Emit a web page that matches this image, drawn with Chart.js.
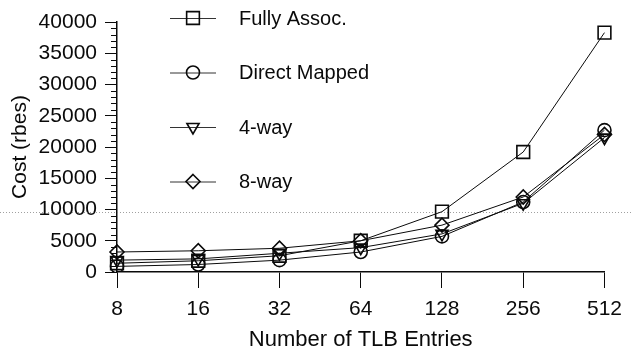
<!DOCTYPE html>
<html>
<head>
<meta charset="utf-8">
<script src="https://cdn.jsdelivr.net/npm/chart.js@4.4.1/dist/chart.umd.min.js"></script>
<style>
  html, body { margin: 0; padding: 0; background: #fff; }
  #wrap { width: 631px; height: 354px; position: relative; }
</style>
</head>
<body>
<div id="wrap"><canvas id="c" width="631" height="354"></canvas></div>
<script>
// TLB size on the x axis, cost in rbes on the y axis
const tlbEntries = ['8', '16', '32', '64', '128', '256', '512'];
const fullyAssoc   = [1400, 1800, 2600, 5000, 9650, 19200, 38300];
const directMapped = [900, 1200, 1900, 3200, 5700, 11200, 22700];
const fourWay      = [1900, 2100, 3000, 3900, 6100, 11000, 21500];
const eightWay     = [3200, 3400, 3800, 5000, 7500, 12000, 22000];
const seriesNames  = ['Fully Assoc.', 'Direct Mapped', '4-way', '8-way'];
const yTickMax = 40000;
const yTickStep = 5000;
const yMinorStep = 1000;
const scanLineValue = 9650;

const INK = '#0a0a0a';
const FONT = 'Liberation Sans, Arial, Helvetica, sans-serif';

function makeSeries(label, data, style, radius, rotation) {
  return {
    label, data,
    borderColor: INK,
    borderWidth: 1,
    pointStyle: style,
    pointRadius: radius,
    pointHoverRadius: radius,
    pointRotation: rotation || 0,
    pointBorderColor: INK,
    pointBorderWidth: 1.6,
    pointBackgroundColor: 'rgba(0,0,0,0)',
    tension: 0,
    fill: false
  };
}

// draws a hollow marker matching the dataset point styles
function drawMarker(ctx, style, x, y, r) {
  ctx.beginPath();
  if (style === 'rect') {
    const s = Math.SQRT1_2 * r;
    ctx.rect(x - s, y - s, 2 * s, 2 * s);
  } else if (style === 'circle') {
    ctx.arc(x, y, r, 0, Math.PI * 2);
  } else if (style === 'triangleDown') {
    for (let k = 0; k < 3; k++) {
      const ang = Math.PI + k * 2 * Math.PI / 3;
      const px = x + Math.sin(ang) * r, py = y - Math.cos(ang) * r;
      if (k === 0) ctx.moveTo(px, py); else ctx.lineTo(px, py);
    }
    ctx.closePath();
  } else if (style === 'rectRot') {
    ctx.moveTo(x, y - r); ctx.lineTo(x + r, y); ctx.lineTo(x, y + r); ctx.lineTo(x - r, y);
    ctx.closePath();
  }
  ctx.stroke();
}

const extras = {
  id: 'extras',
  beforeDatasetsDraw(chart) {
    const ctx = chart.ctx;
    const ys = chart.scales.y;
    // minor ticks on the cost axis
    ctx.save();
    ctx.strokeStyle = INK;
    ctx.lineWidth = 1;
    const x0 = chart.chartArea.left;
    for (let v = 0; v <= yTickMax; v += yMinorStep) {
      if (v % yTickStep === 0) continue;
      const py = Math.round(ys.getPixelForValue(v)) + 0.5;
      ctx.beginPath();
      ctx.moveTo(x0 - 6, py);
      ctx.lineTo(x0, py);
      ctx.stroke();
    }
    // faint dotted line running across the page
    const sy = Math.round(ys.getPixelForValue(scanLineValue)) + 0.5;
    ctx.strokeStyle = 'rgba(120,120,120,0.7)';
    ctx.setLineDash([1, 2]);
    ctx.beginPath();
    ctx.moveTo(0, sy);
    ctx.lineTo(chart.width, sy);
    ctx.stroke();
    ctx.restore();
  },
  afterDraw(chart) {
    const ctx = chart.ctx;
    ctx.save();
    const styles = ['rect', 'circle', 'triangleDown', 'rectRot'];
    const radii = [9, 6.5, 7, 7];
    chart.data.datasets.forEach((ds, i) => {
      const y = 18 + i * 54.5;
      ctx.strokeStyle = '#333';
      ctx.lineWidth = 1;
      ctx.beginPath();
      ctx.moveTo(170, y + 0.5);
      ctx.lineTo(216, y + 0.5);
      ctx.stroke();
      ctx.strokeStyle = INK;
      ctx.lineWidth = 1.6;
      drawMarker(ctx, styles[i], 193, y, radii[i]);
      ctx.fillStyle = INK;
      ctx.font = '20px ' + FONT;
      ctx.textBaseline = 'middle';
      ctx.textAlign = 'left';
      ctx.fillText(ds.label, 239, y + 1);
    });
    ctx.restore();
  }
};

// pointRotation of 180 flips the triangle so it points down
const datasets = [
  makeSeries(seriesNames[0], fullyAssoc, 'rect', 9),
  makeSeries(seriesNames[1], directMapped, 'circle', 6.5),
  makeSeries(seriesNames[2], fourWay, 'triangle', 7, 180),
  makeSeries(seriesNames[3], eightWay, 'rectRot', 7)
];

new Chart(document.getElementById('c'), {
  type: 'line',
  data: { labels: tlbEntries, datasets },
  options: {
    responsive: false,
    animation: false,
    events: [],
    layout: { padding: { left: 0, right: 16, top: 22, bottom: 0 } },
    plugins: { legend: { display: false }, tooltip: { enabled: false } },
    scales: {
      x: {
        type: 'category',
        offset: false,
        afterFit(scale) { scale.height = 82; },
        grid: { drawOnChartArea: false, drawTicks: true, tickLength: 16, tickColor: INK, tickWidth: 1 },
        border: { display: true, color: INK, width: 1.5 },
        ticks: { color: INK, font: { family: FONT, size: 21 }, padding: 9, maxRotation: 0 },
        title: { display: true, text: 'Number of TLB Entries', color: INK, font: { family: FONT, size: 22 }, padding: { top: 0, bottom: 1 } }
      },
      y: {
        min: 0, max: yTickMax,
        afterFit(scale) { scale.width = 117; },
        grid: { drawOnChartArea: false, drawTicks: true, tickLength: 12, tickColor: INK, tickWidth: 1 },
        border: { display: true, color: INK, width: 1.5 },
        ticks: {
          stepSize: yTickStep, color: INK, font: { family: FONT, size: 21 }, padding: 8,
          callback: (v) => String(v)
        },
        title: { display: true, text: 'Cost (rbes)', color: INK, font: { family: FONT, size: 21 }, padding: { top: 8, bottom: 0 } }
      }
    }
  },
  plugins: [extras]
});
</script>
</body>
</html>
